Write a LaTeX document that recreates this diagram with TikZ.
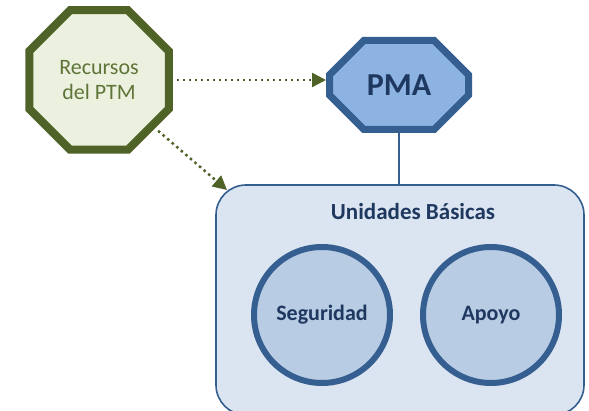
\documentclass[tikz,border=0pt]{standalone}
\usepackage{fontspec}
\setmainfont{Carlito}
\usetikzlibrary{shapes.geometric, shapes.misc, arrows.meta, positioning}
\definecolor{oliveline}{RGB}{79,98,40}
\definecolor{olivefill}{RGB}{235,241,222}
\definecolor{olivetext}{RGB}{95,117,55}
\definecolor{navyline}{RGB}{54,95,145}
\definecolor{pmafill}{RGB}{141,179,226}
\definecolor{unitfill}{RGB}{219,229,241}
\definecolor{circfill}{RGB}{184,204,228}
\definecolor{navytext}{RGB}{31,56,96}
\tikzstyle{resource} = [regular polygon, regular polygon sides=8, minimum size=151pt, inner sep=0pt, draw=oliveline, line width=8pt, fill=olivefill, text=olivetext, align=center, font=\fontsize{22}{25}\selectfont]
\tikzstyle{command} = [chamfered rectangle, chamfered rectangle xsep=24pt, chamfered rectangle ysep=24pt, minimum width=139pt, minimum height=89pt, inner sep=0pt, draw=navyline, line width=7pt, fill=pmafill, text=navytext, font=\fontsize{32}{38}\selectfont\bfseries]
\tikzstyle{group} = [rectangle, rounded corners=30pt, minimum width=368pt, minimum height=230pt, draw=navyline, line width=1.6pt, fill=unitfill]
\tikzstyle{unit} = [circle, minimum size=136pt, inner sep=0pt, draw=navyline, line width=6pt, fill=circfill, text=navytext, font=\fontsize{22}{26}\selectfont\bfseries]
\tikzstyle{title} = [text=navytext, font=\fontsize{23}{28}\selectfont\bfseries]
\tikzstyle{dotarrow} = [draw=oliveline, line width=2.5pt, dash pattern=on 2.5pt off 3.5pt, shorten <=4pt, -{Triangle[length=14pt,width=14pt]}]
\tikzstyle{link} = [draw=navyline, line width=1.8pt]

\begin{document}
\begin{tikzpicture}[x=1pt, y=-1pt]
            \useasboundingbox (0,0) rectangle (589,411);
            \node[resource] (rec) at (99,80) {Recursos\\del PTM};
            \node[command] (pma) at (399,85) {PMA};
            \node[group] (ub) at (400,300) {};
            \node[title] (ubt) at (413,212) {Unidades Básicas};
            \node[unit] (seg) at (322,315) {Seguridad};
            \node[unit, right=27pt of seg] (apo) {Apoyo};
            \coordinate (ubtip) at (227,190);

            \draw[dotarrow] (rec.east) -- (rec.east -| pma.west);
            \draw[dotarrow] (rec) -- (ubtip);
            \draw[link] (pma) -- (pma |- ub.north);
\end{tikzpicture}
\end{document}
